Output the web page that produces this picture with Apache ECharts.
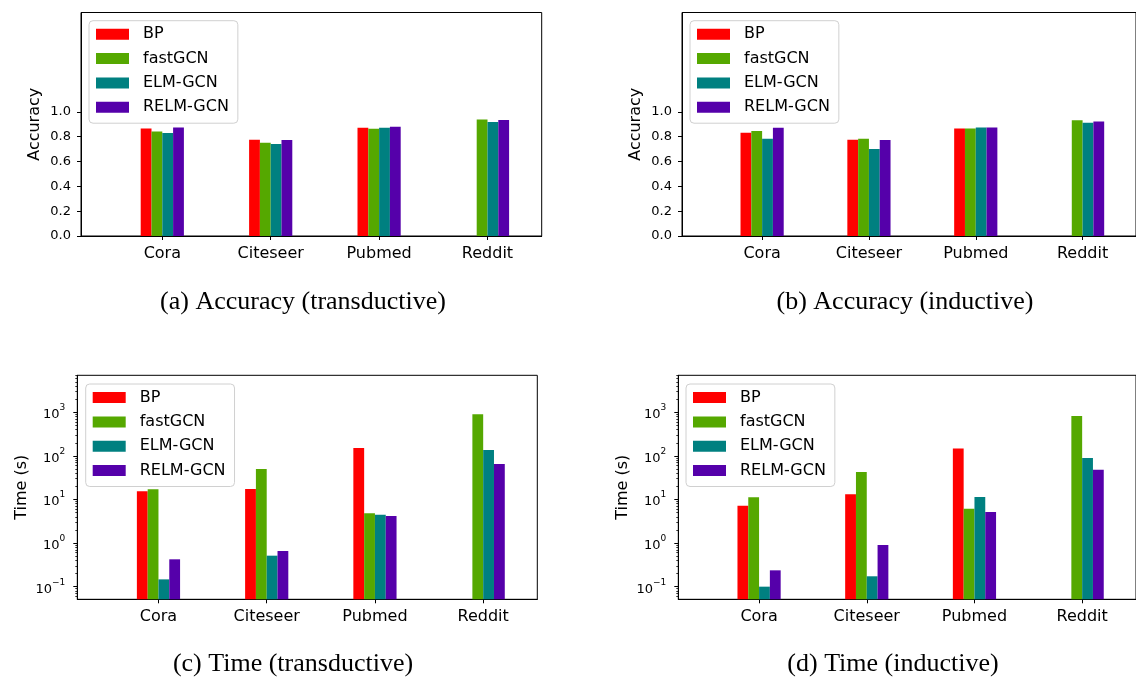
<!DOCTYPE html>
<html><head><meta charset="utf-8">
<script src="https://cdn.jsdelivr.net/npm/echarts@6/dist/echarts.min.js"></script>
<style>html,body{margin:0;padding:0;background:#fff}#c{width:1136px;height:679px}</style>
</head><body><div id="c"></div>
<script>
const categories = ['Cora', 'Citeseer', 'Pubmed', 'Reddit'];
const seriesNames = ['BP', 'fastGCN', 'ELM-GCN', 'RELM-GCN'];
const seriesColors = ['#ff0000', '#55a800', '#008080', '#5500aa'];

// (a) Accuracy (transductive)
const accTransBP   = [0.865, 0.776, 0.871, null];
const accTransFast = [0.841, 0.752, 0.863, 0.938];
const accTransELM  = [0.830, 0.741, 0.871, 0.919];
const accTransRELM = [0.873, 0.774, 0.879, 0.935];
// (b) Accuracy (inductive)
const accIndBP   = [0.832, 0.775, 0.866, null];
const accIndFast = [0.845, 0.783, 0.866, 0.933];
const accIndELM  = [0.783, 0.701, 0.874, 0.912];
const accIndRELM = [0.872, 0.773, 0.874, 0.922];
// (c) Time (transductive), seconds
const timeTransBP   = [15.4, 17.4, 152, null];
const timeTransFast = [17.1, 50.1, 4.82, 900];
const timeTransELM  = [0.147, 0.514, 4.49, 137];
const timeTransRELM = [0.424, 0.657, 4.18, 65.3];
// (d) Time (inductive), seconds
const timeIndBP   = [7.22, 13.1, 147, null];
const timeIndFast = [11.2, 42.8, 6.16, 824];
const timeIndELM  = [0.100, 0.173, 11.4, 89.5];
const timeIndRELM = [0.237, 0.904, 5.17, 48.3];

const accTicks = [0, 0.2, 0.4, 0.6, 0.8, 1.0];
const timeTicks = [0.1, 1, 10, 100, 1000];
const timeMinorTicks = [0.06, 0.07, 0.08, 0.09, 0.2, 0.3, 0.4, 0.5, 0.6, 0.7, 0.8, 0.9,
  2, 3, 4, 5, 6, 7, 8, 9, 20, 30, 40, 50, 60, 70, 80, 90,
  200, 300, 400, 500, 600, 700, 800, 900, 2000, 3000, 4000, 5000, 6000, 7000];
const captions = ['(a) Accuracy (transductive)', '(b) Accuracy (inductive)', '(c) Time (transductive)', '(d) Time (inductive)'];

const panels = [
  {kind: 'acc', data: [accTransBP, accTransFast, accTransELM, accTransRELM], grid: {left: 81, top: 12.5, width: 460.7, height: 223.5}, legend: {left: 89, top: 20.7}, cap: [303, 302]},
  {kind: 'acc', data: [accIndBP, accIndFast, accIndELM, accIndRELM], grid: {left: 682, top: 12.5, width: 460.7, height: 223.5}, legend: {left: 690, top: 20.7}, cap: [905, 302]},
  {kind: 'time', data: [timeTransBP, timeTransFast, timeTransELM, timeTransRELM], grid: {left: 77.3, top: 375.3, width: 460, height: 224}, legend: {left: 85.7, top: 384}, cap: [293, 664]},
  {kind: 'time', data: [timeIndBP, timeIndFast, timeIndELM, timeIndRELM], grid: {left: 678.3, top: 375.3, width: 460, height: 224}, legend: {left: 686, top: 384}, cap: [893, 664]}
];

const FONT = 'DejaVu Sans';
const grids = [], xAxes = [], yAxes = [], series = [], legends = [], graphics = [];

panels.forEach((p, i) => {
  grids.push(Object.assign({show: true, borderColor: '#000', borderWidth: 1, backgroundColor: 'transparent'}, p.grid));
  xAxes.push({
    type: 'value', gridIndex: i, min: 0.25, max: 4.5,
    axisLine: {show: true, onZero: false, lineStyle: {color: '#000', width: 1}},
    axisTick: {show: true, length: 4, customValues: [1, 2, 3, 4], lineStyle: {color: '#000'}},
    axisLabel: {customValues: [1, 2, 3, 4], formatter: v => categories[Math.round(v) - 1], fontSize: 16, fontFamily: FONT, color: '#000', margin: 10},
    splitLine: {show: false}
  });
  let mainY;
  if (p.kind === 'acc') {
    mainY = yAxes.length;
    yAxes.push({
      type: 'value', gridIndex: i, min: 0, max: 1.8,
      axisLine: {show: true, lineStyle: {color: '#000', width: 1}},
      axisTick: {show: true, length: 4, customValues: accTicks, lineStyle: {color: '#000'}},
      axisLabel: {customValues: accTicks, formatter: v => v.toFixed(1), fontSize: 13, fontFamily: FONT, color: '#000', margin: 10},
      splitLine: {show: false},
      name: 'Accuracy', nameLocation: 'middle', nameGap: 38,
      nameTextStyle: {fontSize: 16, fontFamily: FONT, color: '#000'}
    });
  } else {
    mainY = yAxes.length;
    yAxes.push({
      type: 'log', logBase: 10, gridIndex: i, min: 0.0513, max: 7060, startValue: 0.0513,
      axisLine: {show: true, lineStyle: {color: '#000', width: 1}},
      axisTick: {show: true, length: 4, customValues: timeTicks, lineStyle: {color: '#000'}},
      axisLabel: {
        customValues: timeTicks,
        formatter: v => {
          const e = Math.round(Math.log10(v));
          const s = e < 0 ? '\u2212' + (-e) : String(e);
          return '{n|10}{s|' + s + '}';
        },
        rich: {
          n: {fontSize: 13, fontFamily: FONT, color: '#000', lineHeight: 18, verticalAlign: 'bottom'},
          s: {fontSize: 9, fontFamily: FONT, color: '#000', lineHeight: 9, verticalAlign: 'top'}
        },
        margin: 12
      },
      splitLine: {show: false},
      name: 'Time (s)', nameLocation: 'middle', nameGap: 47,
      nameTextStyle: {fontSize: 16, fontFamily: FONT, color: '#000'}
    });
    yAxes.push({
      type: 'log', logBase: 10, gridIndex: i, min: 0.0513, max: 7060, position: 'left',
      axisLine: {show: false},
      axisTick: {show: true, length: 2, customValues: timeMinorTicks, lineStyle: {color: '#000', width: 0.8}},
      axisLabel: {show: false},
      splitLine: {show: false}
    });
  }
  seriesNames.forEach((name, k) => {
    const vals = p.data[k];
    const pts = [];
    vals.forEach((v, j) => { if (v !== null) pts.push([j + 1, v]); });
    series.push({
      type: 'bar', name: name, xAxisIndex: i, yAxisIndex: mainY,
      data: pts, barWidth: 10.8, barGap: '0%',
      itemStyle: {color: seriesColors[k]},
      emphasis: {disabled: true}, animation: false
    });
  });
  legends.push({
    left: p.legend.left, top: p.legend.top, orient: 'vertical',
    data: seriesNames, icon: 'rect', itemWidth: 33, itemHeight: 11, itemGap: 8.3,
    padding: [5.6, 9, 8, 7], borderColor: '#d0d0d0', borderWidth: 1, borderRadius: 4,
    backgroundColor: 'rgba(255,255,255,0.8)', selectedMode: false,
    textStyle: {fontSize: 16, fontFamily: FONT, color: '#000', lineHeight: 16, padding: [0, 0, 0, 9]}
  });
  graphics.push({
    type: 'text', x: p.cap[0], y: p.cap[1],
    style: {text: captions[i], font: '26px "Liberation Serif"', fill: '#000', textAlign: 'center', textVerticalAlign: 'middle'}
  });
});

const chart = echarts.init(document.getElementById('c'), null, {renderer: 'canvas'});
chart.setOption({
  animation: false,
  backgroundColor: '#fff',
  grid: grids, xAxis: xAxes, yAxis: yAxes, series: series, legend: legends,
  graphic: graphics
});
</script>
</body></html>
